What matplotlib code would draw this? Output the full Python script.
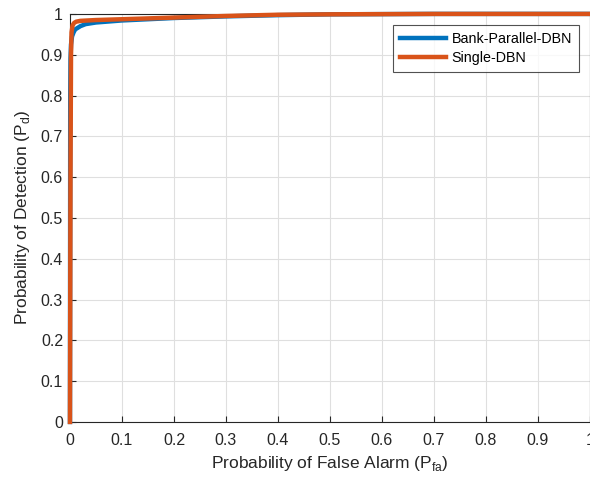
import matplotlib
matplotlib.use('Agg')
from matplotlib import pyplot as plt

plt.rcParams['font.family'] = ['Liberation Sans', 'DejaVu Sans']
plt.rcParams['mathtext.fontset'] = 'custom'
plt.rcParams['mathtext.rm'] = 'Liberation Sans'

# ROC points
pfa_bank = [0.0, 0.0005, 0.001, 0.002, 0.004, 0.007, 0.01, 0.02, 0.03, 0.05, 0.08, 0.1, 0.15,
            0.2, 0.3, 0.4, 0.5, 0.7, 1.0]
pd_bank = [0.0, 0.80, 0.89, 0.925, 0.945, 0.955, 0.962, 0.970, 0.975, 0.979, 0.982, 0.984, 0.987,
           0.990, 0.994, 0.997, 0.999, 1.0, 1.0]

pfa_single = [0.0, 0.001, 0.002, 0.003, 0.005, 0.008, 0.012, 0.02, 0.05, 0.1, 0.2, 0.3, 0.4,
              0.5, 0.7, 1.0]
pd_single = [0.0, 0.60, 0.90, 0.955, 0.972, 0.978, 0.981, 0.983, 0.985, 0.987, 0.991, 0.995,
             0.998, 0.999, 1.0, 1.0]

ticks = [0, 0.1, 0.2, 0.3, 0.4, 0.5, 0.6, 0.7, 0.8, 0.9, 1]
tick_labels = ['0', '0.1', '0.2', '0.3', '0.4', '0.5', '0.6', '0.7', '0.8', '0.9', '1']

fig = plt.figure(figsize=(5.9, 4.8), dpi=100)
ax = fig.add_axes([0.1186, 0.121, 0.8814, 0.850])

ax.plot(pfa_bank, pd_bank, color='#0072BD', lw=3.2, label='Bank-Parallel-DBN', clip_on=False,
        zorder=3)
ax.plot(pfa_single, pd_single, color='#D95319', lw=3.2, label='Single-DBN', clip_on=False,
        zorder=3)

ax.set_xlim(0, 1)
ax.set_ylim(0, 1)
ax.set_xticks(ticks)
ax.set_yticks(ticks)
ax.set_xticklabels(tick_labels)
ax.set_yticklabels(tick_labels)
ax.grid(True, color='#dfdfdf', lw=0.8)
ax.set_axisbelow(True)
ax.tick_params(direction='in', length=4, color='#262626', labelcolor='#262626', labelsize=11.5,
               pad=5)
ax.tick_params(axis='x', pad=8)
for s in ax.spines.values():
    s.set_color('#262626')
    s.set_linewidth(0.8)

ax.set_xlabel('Probability of False Alarm (P$_{\\mathrm{fa}}$)', fontsize=12.5, color='#262626',
              labelpad=4)
ax.set_ylabel('Probability of Detection (P$_{\\mathrm{d}}$)', fontsize=12.5, color='#262626',
              labelpad=6)

leg = ax.legend(loc='upper right', bbox_to_anchor=(579 / 590, 1 - 25 / 480),
                bbox_transform=fig.transFigure, borderaxespad=0, fontsize=10.3, fancybox=False,
                edgecolor='#262626', handlelength=3.2, borderpad=0.5, labelspacing=0.35,
                handletextpad=0.4)
leg.get_frame().set_linewidth(0.8)
leg.set_zorder(5)

fig.savefig('out.png', dpi=100)
